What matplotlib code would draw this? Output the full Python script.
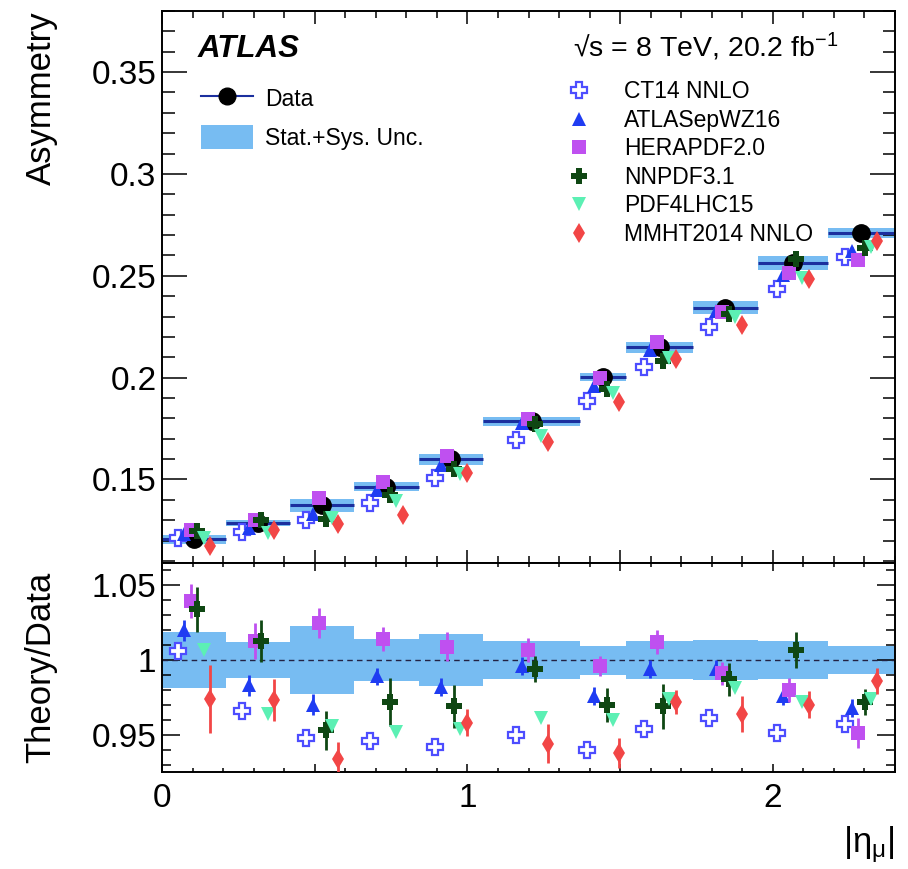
import numpy as np
import matplotlib
matplotlib.use("Agg")
import matplotlib.pyplot as plt
from matplotlib.lines import Line2D
from matplotlib.patches import Patch
from matplotlib.ticker import MultipleLocator, FuncFormatter

plt.rcParams['font.family'] = ['Liberation Sans', 'DejaVu Sans']
plt.rcParams['mathtext.fontset'] = 'custom'
plt.rcParams['mathtext.rm'] = 'Liberation Sans'
plt.rcParams['mathtext.it'] = 'Liberation Sans:italic'
plt.rcParams['mathtext.bf'] = 'Liberation Sans:bold'

# ---------------- data ----------------
bin_edges = [0.0, 0.21, 0.42, 0.63, 0.84, 1.05, 1.37, 1.52, 1.74, 1.95, 2.18, 2.4]
data_asym = [0.1206, 0.1285, 0.1373, 0.1465, 0.1599, 0.1785, 0.2005, 0.2150, 0.2342, 0.2563, 0.2710]
data_rel_unc = [0.019, 0.0122, 0.023, 0.014, 0.0175, 0.0127, 0.0097, 0.0127, 0.0136, 0.013, 0.0095]

labels = ["CT14 NNLO", "ATLASepWZ16", "HERAPDF2.0", "NNPDF3.1", "PDF4LHC15", "MMHT2014 NNLO"]
ratio_ct14 = [1.006, 0.966, 0.948, 0.946, 0.942, 0.950, 0.940, 0.954, 0.961, 0.951, 0.957]
ratio_atlas = [1.020, 0.983, 0.970, 0.989, 0.982, 0.996, 0.976, 0.994, 0.994, 0.976, 0.968]
ratio_hera = [1.0395, 1.013, 1.025, 1.014, 1.009, 1.007, 0.996, 1.012, 0.991, 0.980, 0.951]
ratio_nnpdf = [1.034, 1.013, 0.953, 0.972, 0.969, 0.994, 0.970, 0.969, 0.987, 1.007, 0.972]
ratio_pdf4lhc = [1.007, 0.964, 0.956, 0.952, 0.954, 0.961, 0.960, 0.974, 0.981, 0.972, 0.974]
ratio_mmht = [0.974, 0.973, 0.934, 0.904, 0.958, 0.944, 0.938, 0.972, 0.964, 0.970, 0.986]

err_ct14 = [0.0, 0.0, 0.0, 0.0, 0.0, 0.0, 0.0, 0.0, 0.0, 0.0, 0.0]
err_atlas = [0.007, 0.007, 0.007, 0.006, 0.006, 0.006, 0.006, 0.006, 0.006, 0.006, 0.006]
err_hera = [0.0115, 0.012, 0.010, 0.008, 0.0097, 0.008, 0.007, 0.008, 0.0075, 0.008, 0.010]
err_nnpdf = [0.015, 0.014, 0.013, 0.016, 0.0144, 0.0086, 0.0114, 0.015, 0.011, 0.012, 0.0086]
err_pdf4lhc = [0.0, 0.0, 0.0, 0.0, 0.0, 0.0, 0.0, 0.0, 0.0, 0.0, 0.0]
err_mmht = [0.023, 0.014, 0.011, 0.012, 0.009, 0.013, 0.010, 0.008, 0.012, 0.009, 0.009]

# ---------------- styles ----------------
band_color = '#77bcf2'
data_line_color = '#1b2f9e'
styles = [
    dict(marker='P', mfc='white', mec='#4d4dff', ms=12, mew=1.6, color='#4d4dff'),
    dict(marker='^', mfc='#1f3cf2', mec='#1f3cf2', ms=10, mew=0, color='#1f3cf2'),
    dict(marker='s', mfc='#bf50f0', mec='#bf50f0', ms=10, mew=0, color='#bf50f0'),
    dict(marker='P', mfc='#0f4713', mec='#0f4713', ms=11, mew=0, color='#0f4713'),
    dict(marker='v', mfc='#5cf0b4', mec='#5cf0b4', ms=10, mew=0, color='#5cf0b4'),
    dict(marker='d', mfc='#f24646', mec='#f24646', ms=10, mew=0, color='#f24646'),
]
ratios = [ratio_ct14, ratio_atlas, ratio_hera, ratio_nnpdf, ratio_pdf4lhc, ratio_mmht]
errs = [err_ct14, err_atlas, err_hera, err_nnpdf, err_pdf4lhc, err_mmht]

edges = np.array(bin_edges)
centers = 0.5 * (edges[:-1] + edges[1:])
widths = np.diff(edges)
data = np.array(data_asym)
rel = np.array(data_rel_unc)

W, H = 908, 869
fig = plt.figure(figsize=(W / 100, H / 100), dpi=100)
L, R = 162, 895
T1, B1, B2 = 11, 563, 772
ax1 = fig.add_axes([L / W, 1 - B1 / H, (R - L) / W, (B1 - T1) / H])
ax2 = fig.add_axes([L / W, 1 - B2 / H, (R - L) / W, (B2 - B1) / H], sharex=ax1)

# upper panel
ax1.bar(centers, 2 * rel * data, bottom=data - rel * data, width=widths,
        color=band_color, linewidth=0, zorder=1)
ax1.errorbar(centers, data, xerr=widths / 2, fmt='none', ecolor=data_line_color,
             elinewidth=2.2, capsize=0, zorder=2)
ax1.plot(centers, data, 'o', color='black', ms=12.5, zorder=3)
for k, (r, e, st) in enumerate(zip(ratios, errs, styles)):
    x = centers + (k - 2.5) * 0.021
    r = np.array(r); e = np.array(e)
    ax1.errorbar(x, r * data, yerr=e * data, fmt='none', ecolor=st['color'],
                 elinewidth=2.0, capsize=0, zorder=4 + k)
    ax1.plot(x, r * data, ls='none', marker=st['marker'], mfc=st['mfc'],
             mec=st['mec'], ms=st['ms'], mew=st['mew'], zorder=4 + k)

# lower panel
ax2.bar(centers, 2 * rel, bottom=1 - rel, width=widths, color=band_color,
        linewidth=0, zorder=1)
ax2.axhline(1.0, color='#222244', lw=1.0, ls=(0, (4, 3)), zorder=2)
for k, (r, e, st) in enumerate(zip(ratios, errs, styles)):
    x = centers + (k - 2.5) * 0.021
    ax2.errorbar(x, r, yerr=e, fmt='none', ecolor=st['color'], elinewidth=2.0,
                 capsize=0, zorder=4 + k)
    ax2.plot(x, r, ls='none', marker=st['marker'], mfc=st['mfc'], mec=st['mec'],
             ms=st['ms'], mew=st['mew'], zorder=4 + k)

# axes formatting
fmt_g = FuncFormatter(lambda v, p: f'{v:g}')
fmt_int = FuncFormatter(lambda v, p: f'{v:g}' if abs(v - round(v)) < 1e-6 else '')
ax1.set_xlim(0, 2.4)
ax1.set_ylim(0.109, 0.38)
ax2.set_ylim(0.925, 1.065)
ax1.xaxis.set_major_locator(MultipleLocator(0.5))
ax1.xaxis.set_minor_locator(MultipleLocator(0.1))
ax1.xaxis.set_major_formatter(fmt_int)
ax1.yaxis.set_major_locator(MultipleLocator(0.05))
ax1.yaxis.set_minor_locator(MultipleLocator(0.01))
ax1.yaxis.set_major_formatter(fmt_g)
ax2.yaxis.set_major_locator(MultipleLocator(0.05))
ax2.yaxis.set_minor_locator(MultipleLocator(0.01))
ax2.yaxis.set_major_formatter(fmt_g)

for ax in (ax1, ax2):
    for s in ax.spines.values():
        s.set_linewidth(1.4)
    ax.tick_params(which='both', direction='in', top=True, right=True,
                   labelsize=24, width=1.1)
ax1.tick_params(axis='x', which='major', length=9.5, labelbottom=False)
ax1.tick_params(axis='x', which='minor', length=5)
ax1.tick_params(axis='y', which='major', length=18, pad=4)
ax1.tick_params(axis='y', which='minor', length=9)
ax2.tick_params(axis='x', which='major', length=5.5, pad=8)
ax2.tick_params(axis='x', which='minor', length=3)
ax2.tick_params(axis='y', which='major', length=13, pad=4)
ax2.tick_params(axis='y', which='minor', length=6.5)

ax1.set_ylabel('Asymmetry', fontsize=25, loc='top')
ax1.yaxis.label.set_va('center')
ax1.yaxis.set_label_coords(-0.164, 1.0)
ax2.set_ylabel('Theory/Data', fontsize=25)
ax2.yaxis.label.set_va('center')
ax2.yaxis.set_label_coords(-0.166, 0.5)
ax2.set_xlabel(r'$|\mathrm{\eta}_{\mathrm{\mu}}|$', fontsize=25, loc='right')
ax2.xaxis.label.set_va('top')
ax2.xaxis.set_label_coords(1.0, -0.25)

# texts
ax1.text(0.049, 0.917, 'ATLAS', transform=ax1.transAxes, fontsize=22.5,
         fontweight='bold', fontstyle='italic', va='baseline', ha='left')
ax1.text(0.561, 0.917, '√s = 8 TeV, 20.2 fb$^{-1}$', transform=ax1.transAxes,
         fontsize=20.5, va='baseline', ha='left')

# legends
h_data = Line2D([], [], color=data_line_color, lw=1.5, marker='o', mfc='black',
                mec='black', ms=12)
h_band = Patch(facecolor=band_color, edgecolor='none')
leg1 = ax1.legend([h_data, h_band], ['Data', 'Stat.+Sys. Unc.'], loc='upper left',
                  bbox_to_anchor=(0.0528, 0.864), frameon=False, fontsize=16.5,
                  handlelength=2.27, handleheight=1.22, handletextpad=0.52,
                  labelspacing=0.63, borderpad=0, borderaxespad=0, numpoints=1)
ax1.add_artist(leg1)
handles = [Line2D([], [], ls='none', marker=st['marker'], mfc=st['mfc'], mec=st['mec'],
                  ms=st['ms'], mew=st['mew']) for st in styles]
ax1.legend(handles, labels, loc='upper left', bbox_to_anchor=(0.547, 0.875),
           frameon=False, fontsize=16.5, handlelength=1.4, handletextpad=1.27,
           labelspacing=0.245, borderpad=0, borderaxespad=0, numpoints=1)

fig.savefig('out.png', dpi=100)
